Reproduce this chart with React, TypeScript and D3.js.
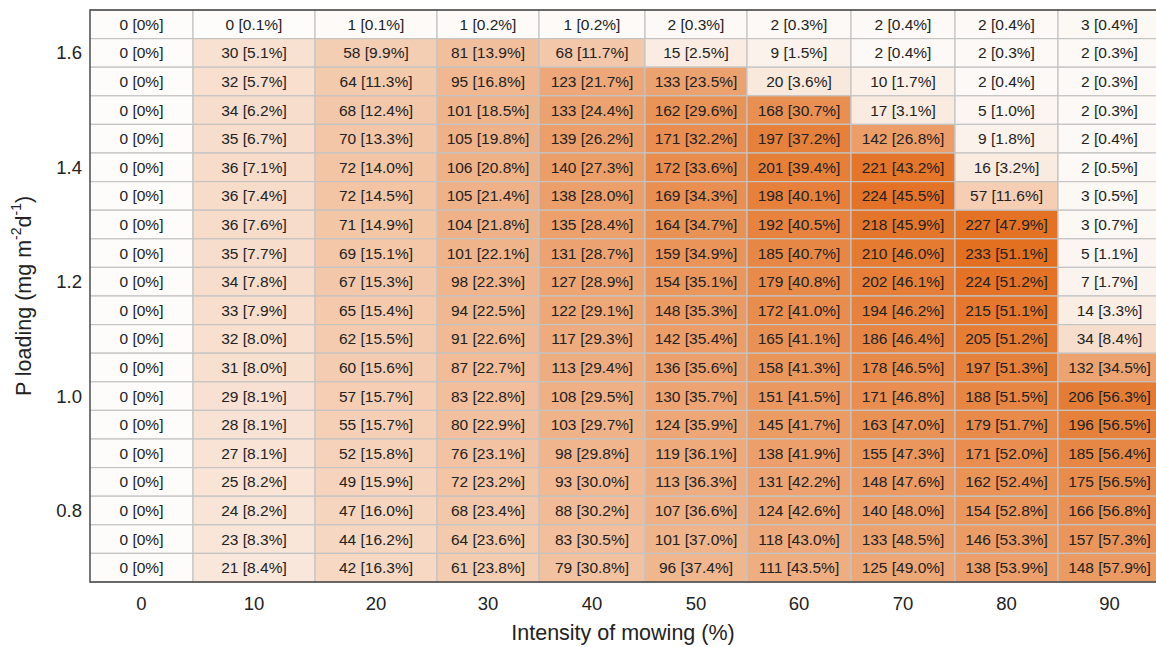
import React, { useEffect, useRef } from 'react';
import * as d3 from 'd3';

// mowing intensity (%) - one table column each
const mowing = [0, 10, 20, 30, 40, 50, 60, 70, 80, 90];

// P loading (mg m-2 d-1) - one table row each, top to bottom
const pLoading = [1.65, 1.6, 1.55, 1.5, 1.45, 1.4, 1.35, 1.3, 1.25, 1.2, 1.15, 1.1, 1.05, 1.0, 0.95, 0.9, 0.85, 0.8, 0.75, 0.7];
const yTicks = [1.6, 1.4, 1.2, 1.0, 0.8];

// counts per cell (rows = pLoading, cols = mowing)
const counts = [
  [0, 0, 1, 1, 1, 2, 2, 2, 2, 3],
  [0, 30, 58, 81, 68, 15, 9, 2, 2, 2],
  [0, 32, 64, 95, 123, 133, 20, 10, 2, 2],
  [0, 34, 68, 101, 133, 162, 168, 17, 5, 2],
  [0, 35, 70, 105, 139, 171, 197, 142, 9, 2],
  [0, 36, 72, 106, 140, 172, 201, 221, 16, 2],
  [0, 36, 72, 105, 138, 169, 198, 224, 57, 3],
  [0, 36, 71, 104, 135, 164, 192, 218, 227, 3],
  [0, 35, 69, 101, 131, 159, 185, 210, 233, 5],
  [0, 34, 67, 98, 127, 154, 179, 202, 224, 7],
  [0, 33, 65, 94, 122, 148, 172, 194, 215, 14],
  [0, 32, 62, 91, 117, 142, 165, 186, 205, 34],
  [0, 31, 60, 87, 113, 136, 158, 178, 197, 132],
  [0, 29, 57, 83, 108, 130, 151, 171, 188, 206],
  [0, 28, 55, 80, 103, 124, 145, 163, 179, 196],
  [0, 27, 52, 76, 98, 119, 138, 155, 171, 185],
  [0, 25, 49, 72, 93, 113, 131, 148, 162, 175],
  [0, 24, 47, 68, 88, 107, 124, 140, 154, 166],
  [0, 23, 44, 64, 83, 101, 118, 133, 146, 157],
  [0, 21, 42, 61, 79, 96, 111, 125, 138, 148],
];

// percentages shown in brackets
const percents = [
  [0, 0.1, 0.1, 0.2, 0.2, 0.3, 0.3, 0.4, 0.4, 0.4],
  [0, 5.1, 9.9, 13.9, 11.7, 2.5, 1.5, 0.4, 0.3, 0.3],
  [0, 5.7, 11.3, 16.8, 21.7, 23.5, 3.6, 1.7, 0.4, 0.3],
  [0, 6.2, 12.4, 18.5, 24.4, 29.6, 30.7, 3.1, 1.0, 0.3],
  [0, 6.7, 13.3, 19.8, 26.2, 32.2, 37.2, 26.8, 1.8, 0.4],
  [0, 7.1, 14.0, 20.8, 27.3, 33.6, 39.4, 43.2, 3.2, 0.5],
  [0, 7.4, 14.5, 21.4, 28.0, 34.3, 40.1, 45.5, 11.6, 0.5],
  [0, 7.6, 14.9, 21.8, 28.4, 34.7, 40.5, 45.9, 47.9, 0.7],
  [0, 7.7, 15.1, 22.1, 28.7, 34.9, 40.7, 46.0, 51.1, 1.1],
  [0, 7.8, 15.3, 22.3, 28.9, 35.1, 40.8, 46.1, 51.2, 1.7],
  [0, 7.9, 15.4, 22.5, 29.1, 35.3, 41.0, 46.2, 51.1, 3.3],
  [0, 8.0, 15.5, 22.6, 29.3, 35.4, 41.1, 46.4, 51.2, 8.4],
  [0, 8.0, 15.6, 22.7, 29.4, 35.6, 41.3, 46.5, 51.3, 34.5],
  [0, 8.1, 15.7, 22.8, 29.5, 35.7, 41.5, 46.8, 51.5, 56.3],
  [0, 8.1, 15.7, 22.9, 29.7, 35.9, 41.7, 47.0, 51.7, 56.5],
  [0, 8.1, 15.8, 23.1, 29.8, 36.1, 41.9, 47.3, 52.0, 56.4],
  [0, 8.2, 15.9, 23.2, 30.0, 36.3, 42.2, 47.6, 52.4, 56.5],
  [0, 8.2, 16.0, 23.4, 30.2, 36.6, 42.6, 48.0, 52.8, 56.8],
  [0, 8.3, 16.2, 23.6, 30.5, 37.0, 43.0, 48.5, 53.3, 57.3],
  [0, 8.4, 16.3, 23.8, 30.8, 37.4, 43.5, 49.0, 53.9, 57.9],
];

// relative widths of the table columns (the table is not evenly spaced)
const colWeights = [103, 122, 122, 102, 106, 102, 104, 104, 103, 103];

const W = 1156;
const H = 647;
const FONT = 'Liberation Sans, Arial, Helvetica, sans-serif';

export default function App() {
  const ref = useRef<SVGSVGElement>(null);

  useEffect(() => {
    const svg = d3.select(ref.current);
    svg.selectAll('*').remove();

    const margin = { top: 10, left: 90, bottom: 65 };
    const tableW = d3.sum(colWeights);
    const edges = [0, ...Array.from(d3.cumsum(colWeights))];

    const xPos = d3.scaleLinear()
      .domain([0, tableW])
      .range([margin.left, margin.left + tableW]);

    const yScale = d3.scaleBand<string>()
      .domain(pLoading.map(String))
      .range([margin.top, H - margin.bottom]);
    const bh = yScale.bandwidth();

    const color = d3.scalePow()
      .exponent(0.8)
      .domain([0, d3.max(counts.flat()) as number])
      .range(['#fdfcfb', '#e36f20'] as any)
      .interpolate(d3.interpolateRgb as any);

    const cells = counts.flatMap((row, i) => row.map((c, j) => ({
      i, j, c, p: percents[i][j],
    })));

    const g = svg.append('g');

    g.selectAll('rect.cell')
      .data(cells)
      .join('rect')
      .attr('class', 'cell')
      .attr('x', d => xPos(edges[d.j]))
      .attr('y', d => yScale(String(pLoading[d.i])) as number)
      .attr('width', d => xPos(edges[d.j + 1]) - xPos(edges[d.j]))
      .attr('height', bh)
      .attr('fill', d => color(d.c) as any)
      .attr('stroke', '#c4c4c4')
      .attr('stroke-width', 1.2);

    g.selectAll('text.cell')
      .data(cells)
      .join('text')
      .attr('class', 'cell')
      .attr('x', d => (xPos(edges[d.j]) + xPos(edges[d.j + 1])) / 2)
      .attr('y', d => (yScale(String(pLoading[d.i])) as number) + bh / 2)
      .attr('text-anchor', 'middle')
      .attr('dominant-baseline', 'central')
      .attr('font-family', FONT)
      .attr('font-size', 15.5)
      .attr('fill', '#222')
      .text(d => `${d.c} [${d.p === 0 ? '0' : d.p.toFixed(1)}%]`);

    // frame
    const top = margin.top;
    const bottom = H - margin.bottom;
    g.append('path')
      .attr('d', `M${xPos(tableW)},${top}H${margin.left}V${bottom}H${xPos(tableW)}`)
      .attr('fill', 'none')
      .attr('stroke', '#444')
      .attr('stroke-width', 1.3);

    // y tick labels
    g.selectAll('text.ytick')
      .data(yTicks)
      .join('text')
      .attr('class', 'ytick')
      .attr('x', margin.left - 8)
      .attr('y', v => {
        const k = pLoading.find(p => Math.abs(p - v) < 1e-6) as number;
        return (yScale(String(k)) as number) + bh / 2;
      })
      .attr('text-anchor', 'end')
      .attr('dominant-baseline', 'central')
      .attr('font-family', FONT)
      .attr('font-size', 18.5)
      .attr('fill', '#222')
      .text(v => v.toFixed(1));

    // x tick labels
    g.selectAll('text.xtick')
      .data(mowing)
      .join('text')
      .attr('class', 'xtick')
      .attr('x', (m, j) => (xPos(edges[j]) + xPos(edges[j + 1])) / 2)
      .attr('y', bottom + 21)
      .attr('text-anchor', 'middle')
      .attr('dominant-baseline', 'central')
      .attr('font-family', FONT)
      .attr('font-size', 18.5)
      .attr('fill', '#222')
      .text(m => String(m));

    // axis titles
    g.append('text')
      .attr('x', (margin.left + W) / 2)
      .attr('y', bottom + 51)
      .attr('text-anchor', 'middle')
      .attr('dominant-baseline', 'central')
      .attr('font-family', FONT)
      .attr('font-size', 21.5)
      .attr('fill', '#222')
      .text('Intensity of mowing (%)');

    const yt = g.append('text')
      .attr('transform', `translate(24,${(top + bottom) / 2}) rotate(-90)`)
      .attr('text-anchor', 'middle')
      .attr('dominant-baseline', 'central')
      .attr('font-family', FONT)
      .attr('font-size', 21.5)
      .attr('fill', '#222');
    yt.append('tspan').text('P loading (mg m');
    yt.append('tspan').attr('dy', -8).attr('font-size', 14).text('-2');
    yt.append('tspan').attr('dy', 8).text('d');
    yt.append('tspan').attr('dy', -8).attr('font-size', 14).text('-1');
    yt.append('tspan').attr('dy', 8).text(')');
  }, []);

  return (
    <svg
      ref={ref}
      width={W}
      height={H}
      style={{ position: 'absolute', left: 0, top: 0, background: '#fff' }}
    />
  );
}
